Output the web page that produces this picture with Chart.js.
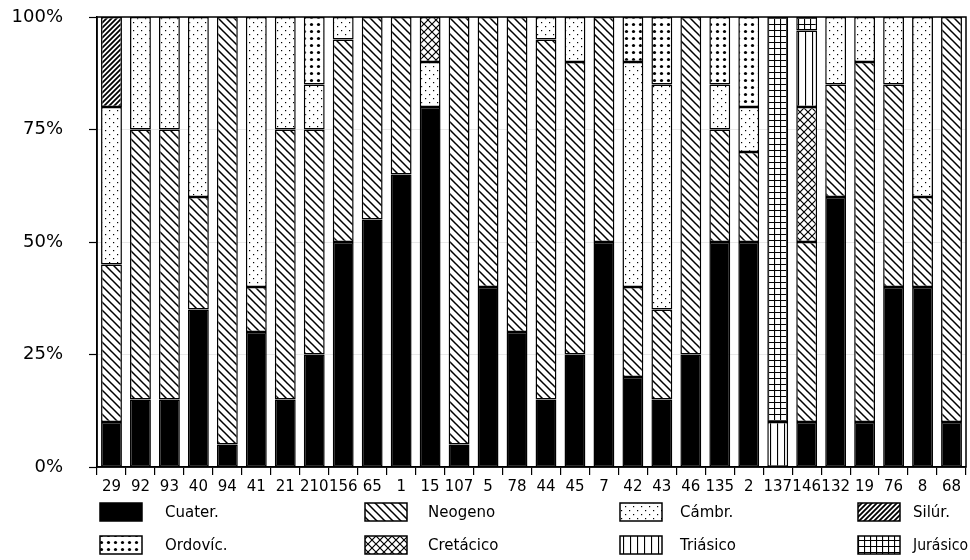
<!DOCTYPE html>
<html>
<head>
<meta charset="utf-8">
<script src="https://cdn.jsdelivr.net/npm/chart.js@4"></script>
<style>
  html, body { margin: 0; padding: 0; background: #fff; }
  #wrap { width: 970px; height: 560px; }
</style>
</head>
<body>
<div id="wrap"><canvas id="c"></canvas></div>
<script>
// sample ids along the x axis
const labels = ['29', '92', '93', '40', '94', '41', '21', '210', '156', '65', '1', '15', '107', '5', '78',
  '44', '45', '7', '42', '43', '46', '135', '2', '137', '146', '132', '19', '76', '8', '68'];

// % of each period per sample
const cuater    = [10, 15, 15, 35, 5, 30, 15, 25, 50, 55, 65, 80, 5, 40, 30, 15, 25, 50, 20, 15, 25, 50, 50, 0, 10, 60, 10, 40, 40, 10];
const neogeno   = [35, 60, 60, 25, 95, 10, 60, 50, 45, 45, 35, 0, 95, 60, 70, 80, 65, 50, 20, 20, 75, 25, 20, 0, 40, 25, 80, 45, 20, 90];
const cambr     = [35, 25, 25, 40, 0, 60, 25, 10, 5, 0, 0, 10, 0, 0, 0, 5, 10, 0, 50, 50, 0, 10, 10, 0, 0, 15, 10, 15, 40, 0];
const silur     = [20, 0, 0, 0, 0, 0, 0, 0, 0, 0, 0, 0, 0, 0, 0, 0, 0, 0, 0, 0, 0, 0, 0, 0, 0, 0, 0, 0, 0, 0];
const ordovic   = [0, 0, 0, 0, 0, 0, 0, 15, 0, 0, 0, 0, 0, 0, 0, 0, 0, 0, 10, 15, 0, 15, 20, 0, 0, 0, 0, 0, 0, 0];
const cretacico = [0, 0, 0, 0, 0, 0, 0, 0, 0, 0, 0, 10, 0, 0, 0, 0, 0, 0, 0, 0, 0, 0, 0, 0, 30, 0, 0, 0, 0, 0];
const triasico  = [0, 0, 0, 0, 0, 0, 0, 0, 0, 0, 0, 0, 0, 0, 0, 0, 0, 0, 0, 0, 0, 0, 0, 10, 17, 0, 0, 0, 0, 0];
const jurasico  = [0, 0, 0, 0, 0, 0, 0, 0, 0, 0, 0, 0, 0, 0, 0, 0, 0, 0, 0, 0, 0, 0, 0, 90, 3, 0, 0, 0, 0, 0];

const yTicks = [0, 25, 50, 75, 100];

// little tiles for the hatch fills
function tile(w, h, draw) {
  const c = document.createElement('canvas');
  c.width = w; c.height = h;
  const g = c.getContext('2d');
  g.fillStyle = '#fff';
  g.fillRect(0, 0, w, h);
  g.strokeStyle = '#000';
  g.fillStyle = '#000';
  draw(g, w, h);
  return document.createElement('canvas').getContext('2d').createPattern(c, 'repeat');
}

const pat = {
  solid: '#000',
  back: tile(8, 8, (g, w, h) => {
    g.lineWidth = 1.5;
    g.beginPath();
    g.moveTo(-1, -1); g.lineTo(w + 1, h + 1);
    g.moveTo(-1, h - 1); g.lineTo(1, h + 1);
    g.moveTo(w - 1, -1); g.lineTo(w + 1, 1);
    g.stroke();
  }),
  dots: tile(8, 8, (g) => {
    g.fillRect(1, 2, 1.2, 1.2);
    g.fillRect(5, 6, 1.2, 1.2);
  }),
  fwd: tile(5, 5, (g, w, h) => {
    g.lineWidth = 1.8;
    g.beginPath();
    g.moveTo(-1, h + 1); g.lineTo(w + 1, -1);
    g.moveTo(-1, 1); g.lineTo(1, -1);
    g.moveTo(w - 1, h + 1); g.lineTo(w + 1, h - 1);
    g.stroke();
  }),
  bigdots: tile(7, 7, (g) => {
    g.beginPath();
    g.arc(3.5, 3.5, 1.6, 0, Math.PI * 2);
    g.fill();
  }),
  cross: tile(8, 8, (g, w, h) => {
    g.lineWidth = 1.2;
    g.beginPath();
    g.moveTo(0, 0); g.lineTo(w, h);
    g.moveTo(0, h); g.lineTo(w, 0);
    g.stroke();
  }),
  vert: tile(7, 7, (g, w, h) => {
    g.lineWidth = 1.2;
    g.beginPath();
    g.moveTo(0.5, 0); g.lineTo(0.5, h);
    g.stroke();
  }),
  grid: tile(6, 6, (g, w, h) => {
    g.lineWidth = 1.2;
    g.beginPath();
    g.moveTo(0.5, 0); g.lineTo(0.5, h);
    g.moveTo(0, 0.5); g.lineTo(w, 0.5);
    g.stroke();
  })
};

const series = [
  { label: 'Cuater.', data: cuater, fill: pat.solid },
  { label: 'Neogeno', data: neogeno, fill: pat.back },
  { label: 'Cámbr.', data: cambr, fill: pat.dots },
  { label: 'Silúr.', data: silur, fill: pat.fwd },
  { label: 'Ordovíc.', data: ordovic, fill: pat.bigdots },
  { label: 'Cretácico', data: cretacico, fill: pat.cross },
  { label: 'Triásico', data: triasico, fill: pat.vert },
  { label: 'Jurásico', data: jurasico, fill: pat.grid }
];

const font = 'DejaVu Sans';

// box round the plot + the two-row legend under the axis
const frameAndLegend = {
  id: 'frameAndLegend',
  afterDraw(chart) {
    const { ctx, chartArea: a } = chart;
    ctx.save();
    ctx.strokeStyle = '#000';
    ctx.lineWidth = 1.5;
    ctx.strokeRect(a.left, a.top, a.right - a.left, a.bottom - a.top);

    const boxX = [100, 365, 620, 858];
    const textX = [165, 428, 680, 913];
    const rowY = [512, 545];
    ctx.font = '15px ' + font;
    ctx.textBaseline = 'middle';
    series.forEach((s, i) => {
      const c = i % 4, y = rowY[Math.floor(i / 4)];
      ctx.fillStyle = s.fill;
      ctx.fillRect(boxX[c], y - 9, 42, 18);
      ctx.lineWidth = 1.5;
      ctx.strokeRect(boxX[c], y - 9, 42, 18);
      ctx.fillStyle = '#000';
      ctx.fillText(s.label, textX[c], y + 1, c === 3 ? 55 : 200);
    });
    ctx.restore();
  }
};

new Chart(document.getElementById('c'), {
  type: 'bar',
  data: {
    labels,
    datasets: series.map(s => ({
      label: s.label,
      data: s.data.map(v => v === 0 ? null : v),
      backgroundColor: s.fill,
      borderColor: '#000',
      borderWidth: 1.5,
      borderSkipped: false,
      barPercentage: 0.72,
      categoryPercentage: 1
    }))
  },
  options: {
    responsive: true,
    maintainAspectRatio: false,
    animation: false,
    layout: { padding: { top: 0, right: 4, left: 0, bottom: 0 } },
    plugins: {
      legend: { display: false },
      tooltip: { enabled: false }
    },
    scales: {
      x: {
        stacked: true,
        grid: { drawOnChartArea: false, color: '#000', tickLength: 8, lineWidth: 1.2 },
        border: { color: '#000', width: 1.5 },
        ticks: { color: '#000', font: { family: font, size: 15 }, maxRotation: 0, autoSkip: false, padding: 3 },
        afterFit(scale) { scale.height = 93; }
      },
      y: {
        stacked: true,
        min: 0,
        max: 100,
        afterBuildTicks(scale) { scale.ticks = yTicks.map(v => ({ value: v })); },
        grid: { color: '#d8d8d8', tickColor: '#000', tickLength: 8, lineWidth: 0.6, tickWidth: 1.2 },
        border: { color: '#000', width: 1.5 },
        ticks: {
          color: '#000',
          font: { family: font, size: 18 },
          padding: 26,
          callback: v => v + '%'
        },
        afterFit(scale) {
          scale.width = 97;
          scale.paddingTop = 17;
        }
      }
    }
  },
  plugins: [frameAndLegend]
});
</script>
</body>
</html>
